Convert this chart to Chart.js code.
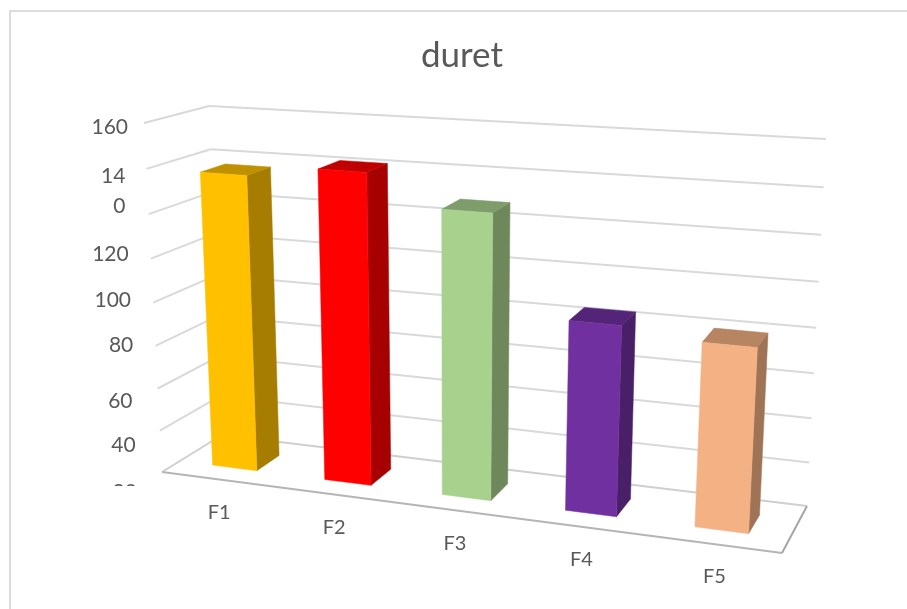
<!DOCTYPE html>
<html>
<head>
<meta charset="utf-8">
<title>duret</title>
<script src="https://cdn.jsdelivr.net/npm/chart.js@4/dist/chart.umd.min.js"></script>
<style>
  html, body { margin: 0; padding: 0; background: #fff; overflow: hidden; }
  canvas { display: block; }
</style>
</head>
<body>
<canvas id="chart" width="907" height="609"></canvas>
<script>
// Chart values
const categories = ['F1', 'F2', 'F3', 'F4', 'F5'];
const duret = [137, 142, 128.5, 85, 81];
const frontColors = ['#FFC000', '#FF0000', '#A9D18E', '#7030A0', '#F4B183'];
const sideColors = ['#A67D00', '#A60000', '#6E885C', '#491F68', '#9F7355'];
const topColors = ['#BF9000', '#BF0000', '#7F9D6A', '#542478', '#B78562'];
const yTickValues = [160, 140, 120, 100, 80, 60, 40, 20, 0];
const yTickLabels = ['160', ['14', '0'], '120', '100', '80', '60', '40', '20', ''];

// Layout of the 3D box: screen corners of the walls and floor
const box = {
  backTopLeft: [209, 106], backTopRight: [826, 139],
  backBottomLeft: [222, 435], backBottomRight: [807, 506],
  frontTopLeft: [144, 123], frontTopRight: [803, 166],
  frontBottomLeft: [162, 472], frontBottomRight: [782, 553]
};
const depthFront = 0.3, depthBack = 0.7;   // where the bars sit between front and back
const widthWarp = 1.128, heightWarp = 1.06; // foreshortening across and up the box
// Value-label offsets from the foot of each gridline: [right edge dx, centre dy]
const yLabelOffsets = [[-16, 4], [-21, 22], [-20, 40], [-20, 42], [-20, 43], [-23, 55], [-22, 57], [-23, 62], [0, 0]];

const mix = (a, b, t) => [a[0] + (b[0] - a[0]) * t, a[1] + (b[1] - a[1]) * t];
const warp = (t, k) => t / (t + k * (1 - t));

// Maps box coordinates (across, up, depth; each 0..1) to the screen
function project(u, v, z) {
  const x = warp(u, widthWarp), y = warp(v, heightWarp);
  const front = mix(mix(box.frontBottomLeft, box.frontBottomRight, x), mix(box.frontTopLeft, box.frontTopRight, x), y);
  const back = mix(mix(box.backBottomLeft, box.backBottomRight, x), mix(box.backTopLeft, box.backTopRight, x), y);
  return mix(front, back, z);
}

function line(ctx, a, b, color, width) {
  ctx.strokeStyle = color;
  ctx.lineWidth = width;
  ctx.beginPath();
  ctx.moveTo(a[0], a[1]);
  ctx.lineTo(b[0], b[1]);
  ctx.stroke();
}

function face(ctx, points, color) {
  ctx.fillStyle = color;
  ctx.beginPath();
  points.forEach((p, i) => i ? ctx.lineTo(p[0], p[1]) : ctx.moveTo(p[0], p[1]));
  ctx.closePath();
  ctx.fill();
  ctx.strokeStyle = color;
  ctx.lineWidth = 0.5;
  ctx.stroke();
}

const perspectivePlugin = {
  id: 'perspective',
  beforeDraw(chart) {
    // Chart frame: only the top and left edges fall inside the canvas
    const ctx = chart.ctx;
    ctx.save();
    line(ctx, [10, 609], [10, 11], '#DCDCDC', 2);
    line(ctx, [9, 11], [907, 11], '#DCDCDC', 2);
    ctx.restore();
  },
  beforeDatasetsDraw(chart) {
    const ctx = chart.ctx, area = chart.chartArea, yScale = chart.scales.y, xScale = chart.scales.x;
    ctx.save();
    // Gridlines along the back wall and side wall
    yScale.ticks.forEach(tick => {
      const v = (area.bottom - yScale.getPixelForValue(tick.value)) / area.height;
      const grey = tick.value === 0 ? '#CFCFCF' : '#D9D9D9';
      line(ctx, project(0, v, 0), project(0, v, 1), grey, 2);
      line(ctx, project(0, v, 1), project(1, v, 1), grey, 2);
    });
    // Front and right edges of the floor
    line(ctx, project(0, 0, 0), project(1, 0, 0), '#B5B5B5', 2);
    line(ctx, project(1, 0, 0), project(1, 0, 1), '#A6A6A6', 2);

    // Value labels stepping down beside the side wall
    ctx.font = '21px Lato';
    ctx.fillStyle = '#595959';
    ctx.textAlign = 'right';
    ctx.textBaseline = 'middle';
    ctx.save();
    ctx.beginPath();
    ctx.rect(0, 0, 907, 486);
    ctx.clip();
    yTickValues.forEach((value, i) => {
      const v = (area.bottom - yScale.getPixelForValue(value)) / area.height;
      const foot = project(0, v, 0);
      const label = yTickLabels[i];
      const [dx, dy] = yLabelOffsets[i];
      if (Array.isArray(label)) {
        ctx.fillText(label[0], foot[0] + dx, foot[1] + dy - 15);
        ctx.fillText(label[1], foot[0] + dx, foot[1] + dy + 15);
      } else if (label) {
        ctx.fillText(label, foot[0] + dx, foot[1] + dy);
      }
    });
    ctx.restore();

    // Category labels below the front edge
    ctx.font = '20px Lato';
    ctx.textAlign = 'center';
    categories.forEach((name, i) => {
      const u = (xScale.getPixelForValue(i) - area.left) / area.width;
      const foot = project(u, 0, 0);
      ctx.fillText(name, foot[0] + 1.5, foot[1] + 33);
    });
    ctx.restore();
  },
  beforeDatasetDraw(chart, args) {
    const ctx = chart.ctx, area = chart.chartArea;
    ctx.save();
    args.meta.data.forEach((bar, i) => {
      const left = (bar.x - bar.width / 2 - area.left) / area.width;
      const right = (bar.x + bar.width / 2 - area.left) / area.width;
      const top = (area.bottom - bar.y) / area.height;
      const bottom = (area.bottom - bar.base) / area.height;
      const corner = (u, v, z) => project(u, v, z);
      face(ctx, [corner(right, bottom, depthFront), corner(right, bottom, depthBack), corner(right, top, depthBack), corner(right, top, depthFront)], sideColors[i]);
      face(ctx, [corner(left, top, depthFront), corner(right, top, depthFront), corner(right, top, depthBack), corner(left, top, depthBack)], topColors[i]);
      face(ctx, [corner(left, bottom, depthFront), corner(right, bottom, depthFront), corner(right, top, depthFront), corner(left, top, depthFront)], bar.options.backgroundColor);
    });
    ctx.restore();
    return false; // the projected faces replace the flat bars
  }
};

new Chart(document.getElementById('chart'), {
  type: 'bar',
  data: {
    labels: categories,
    datasets: [{
      label: 'duret',
      data: duret,
      backgroundColor: frontColors,
      barPercentage: 0.4,
      categoryPercentage: 1
    }]
  },
  options: {
    responsive: false,
    animation: false,
    layout: { padding: { left: 17, top: 25, right: 0, bottom: 10 } },
    plugins: {
      legend: { display: false },
      tooltip: { enabled: false },
      title: {
        display: true,
        text: 'duret',
        color: '#595959',
        font: { family: 'Lato', size: 35, weight: 'normal' },
        padding: { top: 10, bottom: 10 }
      }
    },
    scales: {
      x: { display: false },
      y: { display: false, min: 0, max: 160, ticks: { stepSize: 20 } }
    }
  },
  plugins: [perspectivePlugin]
});
</script>
</body>
</html>
